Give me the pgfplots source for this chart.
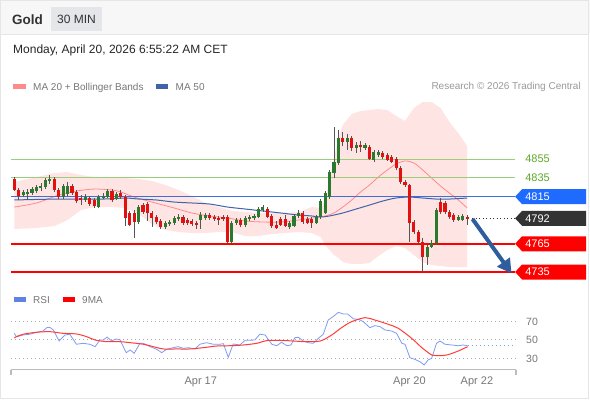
\documentclass[border=0pt]{standalone}
\usepackage{fontspec}
\setmainfont{Liberation Sans}
\usepackage{pgfplots}
\pgfplotsset{compat=1.18}
\usepackage{pgfplotstable}
\usetikzlibrary{arrows.meta}

\definecolor{cgreen}{HTML}{2A7A2E}
\definecolor{cred}{HTML}{E31010}
\definecolor{wick}{HTML}{555555}
\definecolor{band}{HTML}{FFE4E4}
\definecolor{ma20}{HTML}{FF8A8A}
\definecolor{ma50}{HTML}{3F64A8}
\definecolor{lvlgreen}{HTML}{9ACD7A}
\definecolor{txtgreen}{HTML}{5FA82A}
\definecolor{lvlblue}{HTML}{3C6FDC}
\definecolor{boxblue}{HTML}{1F6BFF}
\definecolor{lvlred}{HTML}{FF0000}
\definecolor{boxdark}{HTML}{333333}
\definecolor{arrowblue}{HTML}{2F5E9E}
\definecolor{rsiblue}{HTML}{7E9CF2}
\definecolor{rsileg}{HTML}{5F82E8}
\definecolor{rsired}{HTML}{FF3B3B}
\definecolor{gridgray}{HTML}{BBBBBB}
\definecolor{dotgray}{HTML}{AAAAAA}
\definecolor{txtgray}{HTML}{777777}
\definecolor{txtlight}{HTML}{999999}
\definecolor{txtdark}{HTML}{333333}
\definecolor{hdr}{HTML}{F7F7F7}
\definecolor{tagbg}{HTML}{E4E6E9}
\definecolor{frame}{HTML}{E6E6E6}

\pgfplotstableread{
i O H L C
2 4816.8 4822.1 4814.6 4820.0
3 4817.8 4823.1 4811.5 4820.0
4 4818.9 4825.3 4816.8 4823.1
5 4821.0 4827.4 4818.9 4825.3
6 4824.2 4829.5 4821.0 4826.3
7 4825.3 4834.8 4823.1 4832.7
8 4831.6 4838.0 4828.5 4833.8
11 4814.6 4828.5 4812.5 4826.3
12 4817.8 4830.6 4815.7 4826.3
16 4811.5 4817.8 4809.3 4814.6
19 4804.0 4816.8 4803.0 4814.6
20 4814.6 4818.9 4812.5 4815.7
21 4814.6 4823.1 4813.6 4821.0
23 4812.5 4820.0 4811.5 4817.8
28 4788.1 4806.1 4786.0 4804.0
34 4782.8 4789.2 4780.7 4787.0
35 4786.0 4790.2 4783.8 4788.1
36 4787.0 4794.5 4784.9 4792.3
37 4791.3 4796.6 4789.2 4793.4
42 4790.2 4798.7 4780.7 4795.5
43 4792.3 4797.7 4790.2 4795.5
49 4766.9 4789.2 4765.8 4787.0
50 4787.0 4792.3 4784.9 4790.2
52 4784.9 4794.5 4782.8 4792.3
53 4791.3 4795.5 4789.2 4793.4
54 4792.3 4796.6 4790.2 4794.5
55 4793.4 4804.0 4792.3 4801.9
56 4800.8 4806.1 4798.7 4804.0
62 4782.8 4789.2 4780.7 4787.0
63 4783.8 4796.6 4782.8 4794.5
64 4794.5 4800.8 4792.3 4797.7
68 4787.0 4795.5 4786.0 4793.4
69 4793.4 4812.5 4791.3 4810.4
70 4797.7 4821.0 4796.6 4818.9
71 4814.6 4843.3 4812.5 4841.2
72 4840.1 4889.0 4834.8 4851.8
73 4850.8 4885.8 4848.6 4877.3
75 4873.1 4881.6 4864.6 4877.3
77 4866.7 4873.1 4861.4 4869.9
79 4866.7 4872.0 4864.6 4869.9
81 4853.9 4864.6 4851.8 4862.4
82 4859.2 4864.6 4857.1 4862.4
93 4750.9 4763.7 4742.4 4761.5
94 4761.5 4769.0 4760.5 4765.8
95 4765.8 4803.0 4763.7 4800.8
100 4790.2 4795.5 4789.2 4793.4
101 4790.2 4796.6 4789.2 4794.5
}\greenc

\pgfplotstableread{
i O H L C
0 4833.8 4835.9 4821.0 4822.1
1 4822.1 4824.2 4811.5 4815.7
9 4833.8 4835.9 4820.0 4822.1
10 4822.1 4824.2 4812.5 4814.6
13 4826.3 4828.5 4816.8 4818.9
14 4820.0 4822.1 4808.3 4810.4
15 4813.6 4816.8 4806.1 4812.5
17 4813.6 4815.7 4805.1 4807.2
18 4811.5 4813.6 4803.0 4805.1
22 4821.0 4823.1 4809.3 4811.5
24 4818.9 4822.1 4812.5 4814.6
25 4814.6 4816.8 4783.8 4792.3
26 4797.7 4799.8 4783.8 4784.9
27 4797.7 4800.8 4771.1 4788.1
29 4806.1 4808.3 4796.6 4798.7
30 4807.2 4809.3 4789.2 4797.7
31 4797.7 4799.8 4782.8 4792.3
32 4793.4 4795.5 4786.0 4788.1
33 4789.2 4791.3 4780.7 4782.8
38 4793.4 4795.5 4784.9 4787.0
39 4790.2 4792.3 4784.9 4787.0
40 4789.2 4791.3 4783.8 4786.0
41 4787.0 4789.2 4780.7 4786.0
44 4795.5 4797.7 4790.2 4792.3
45 4793.4 4795.5 4789.2 4791.3
46 4792.3 4794.5 4784.9 4791.3
47 4793.4 4795.5 4789.2 4791.3
48 4793.4 4795.5 4765.8 4766.9
51 4790.2 4792.3 4782.8 4784.9
57 4801.9 4804.0 4792.3 4793.4
58 4794.5 4796.6 4781.7 4783.8
59 4784.9 4789.2 4780.7 4781.7
60 4791.3 4793.4 4783.8 4784.9
61 4791.3 4795.5 4782.8 4783.8
65 4797.7 4799.8 4786.0 4788.1
66 4791.3 4793.4 4786.0 4787.0
67 4791.3 4793.4 4781.7 4787.0
74 4877.3 4883.7 4868.8 4873.1
76 4877.3 4879.4 4863.5 4866.7
78 4869.9 4874.1 4862.4 4867.7
80 4867.7 4869.9 4853.9 4855.0
83 4861.4 4863.5 4855.0 4857.1
84 4859.2 4861.4 4852.9 4853.9
85 4857.1 4859.2 4850.8 4851.8
86 4855.0 4857.1 4843.3 4845.4
87 4845.4 4847.6 4828.5 4830.6
88 4830.6 4832.7 4825.3 4827.4
89 4827.4 4828.5 4766.9 4787.0
90 4788.1 4790.2 4775.4 4777.5
91 4777.5 4779.6 4764.7 4766.9
92 4766.9 4771.1 4735.0 4750.9
96 4809.3 4813.6 4796.6 4798.7
97 4808.3 4810.4 4796.6 4798.7
98 4798.7 4800.8 4791.3 4793.4
99 4795.5 4797.7 4788.1 4790.2
102 4793.4 4795.5 4784.9 4792.0
}\redc

\begin{document}
\begin{tikzpicture}
\useasboundingbox (0,0) rectangle (590pt,-400pt);
\fill[white] (0,0) rectangle (590pt,-400pt);
\fill[hdr] (0,0) rectangle (590pt,-34pt);
\draw[frame] (0.5pt,-0.5pt) rectangle (588.5pt,-398.5pt);
\draw[frame] (0.5pt,-34pt) -- (588.5pt,-34pt);

% header
\node[anchor=base west, inner sep=0pt, font=\fontsize{13.5}{16}\selectfont\bfseries, text=txtdark] at (12pt,-24pt) {Gold};
\fill[tagbg] (51pt,-7pt) rectangle (102pt,-31pt);
\node[anchor=base, inner sep=0pt, font=\fontsize{12}{14}\selectfont, text=txtdark] at (76.5pt,-23.5pt) {30 MIN};
\node[anchor=base west, inner sep=0pt, font=\fontsize{12}{14}\selectfont, text=black!85] at (13pt,-53pt) {Monday, April 20, 2026 6:55:22 AM CET};

% legends
\fill[ma20] (13pt,-84pt) rectangle (26pt,-89pt);
\node[anchor=base west, inner sep=0pt, font=\fontsize{10}{12}\selectfont, text=txtgray] at (33pt,-90pt) {MA 20 + Bollinger Bands};
\fill[ma50] (156pt,-84pt) rectangle (168pt,-89pt);
\node[anchor=base west, inner sep=0pt, font=\fontsize{10}{12}\selectfont, text=txtgray] at (175.5pt,-90pt) {MA 50};
\node[anchor=base east, inner sep=0pt, font=\fontsize{10}{12}\selectfont, text=txtlight] at (581pt,-89.5pt) {Research © 2026 Trading Central};

\fill[rsileg] (14pt,-297pt) rectangle (26pt,-302pt);
\node[anchor=base west, inner sep=0pt, font=\fontsize{10}{12}\selectfont, text=txtgray] at (33pt,-303pt) {RSI};
\fill[lvlred] (63pt,-297pt) rectangle (75pt,-302pt);
\node[anchor=base west, inner sep=0pt, font=\fontsize{10}{12}\selectfont, text=txtgray] at (82pt,-303pt) {9MA};

% ---------------- main price panel
\begin{axis}[at={(11pt,-95pt)}, anchor=north west, scale only axis,
  width=505pt, height=185pt, xmin=-0.74, xmax=113, ymin=4726.5, ymax=4923,
  hide axis, clip=false]
% Bollinger band
\addplot[fill=band, draw=none] coordinates {
(0,4830.6) (5,4835.9) (9,4840.1) (12,4841.2) (15,4838.0) (18,4835.9) (22,4834.8)
(25,4834.8) (28,4833.8) (31,4831.6) (34,4827.4) (37,4822.1) (40,4815.7) (43,4808.3)
(46,4804.0) (49,4799.8) (52,4798.7) (55,4797.7) (58,4797.7) (61,4797.7) (64,4798.7)
(67,4804.0) (69,4803.0) (70,4811.5) (71,4832.7) (72,4856.1) (73,4877.3) (74,4891.1)
(76,4902.8) (78,4906.0) (80,4907.0) (82,4908.1) (84,4907.0) (86,4900.7) (88,4895.4)
(90,4909.2) (92,4915.5) (94,4915.5) (96,4909.2) (98,4894.3) (100,4882.6) (102,4868.8)
(102,4740.3) (100,4740.3) (98,4740.3) (96,4741.4) (94,4742.4) (92,4745.6) (90,4753.0)
(88,4760.5) (86,4762.6) (84,4758.4) (82,4752.0) (80,4744.6) (78,4743.5) (76,4743.5)
(74,4745.6) (73,4749.9) (72,4753.0) (71,4758.4) (70,4763.7) (69,4772.2) (67,4776.4)
(64,4777.5) (61,4776.4) (58,4775.4) (55,4773.2) (52,4773.2) (49,4777.5) (46,4777.5)
(43,4776.4) (40,4776.4) (37,4777.5) (34,4779.6) (31,4786.0) (28,4796.6) (25,4803.0)
(22,4804.0) (18,4804.0) (15,4800.8) (12,4790.2) (9,4783.8) (5,4781.7) (0,4780.7)
};
% MA 20
\addplot[ma20, line width=0.8pt, smooth, tension=0.5] coordinates {
(0,4804.0) (5,4808.3) (10,4816.8) (14,4821.0) (18,4823.1) (22,4822.1) (24,4820.0)
(27,4814.6) (31,4809.3) (36,4803.0) (40,4797.7) (44,4794.5) (48,4792.3) (52,4789.2)
(56,4788.1) (60,4788.1) (64,4790.2) (67,4792.3) (70,4794.5) (72,4797.7) (74,4804.0)
(76,4811.5) (78,4820.0) (80,4827.4) (82,4835.9) (84,4843.3) (86,4849.7) (88,4852.9)
(90,4850.8) (92,4843.3) (94,4834.8) (96,4826.3) (98,4818.9) (100,4811.5) (102,4803.0)
};
% level lines
\addplot[lvlgreen, line width=0.9pt] coordinates {(-0.74,4855) (112.8,4855)};
\addplot[lvlgreen, line width=0.9pt] coordinates {(-0.74,4835) (112.8,4835)};
\addplot[lvlblue, line width=1.3pt] coordinates {(-0.74,4815) (112.8,4815)};
\addplot[lvlred, line width=2pt] coordinates {(-0.74,4765) (112.8,4765)};
\addplot[lvlred, line width=2pt] coordinates {(-0.74,4735) (112.8,4735)};
\addplot[boxdark, line width=0.9pt, dash pattern=on 1pt off 2.5pt] coordinates {(103.1,4792) (112.8,4792)};
% MA 50
\addplot[ma50, line width=1pt, smooth, tension=0.5] coordinates {
(0,4811.5) (10,4812.5) (20,4812.5) (25,4813.6) (28,4812.5) (32,4811.5) (36,4809.3)
(40,4808.3) (44,4807.2) (48,4804.0) (52,4801.9) (56,4799.8) (60,4797.7) (64,4795.5)
(67,4794.5) (69,4793.4) (71,4794.5) (74,4797.7) (77,4801.9) (80,4806.1) (83,4810.4)
(86,4813.6) (89,4814.6) (92,4813.6) (95,4812.5) (98,4812.5) (102,4813.6)
};
% candle wicks
\addplot[draw=none, mark=none, error bars/.cd, y dir=both, y explicit, error mark=none,
  error bar style={draw=wick, line width=0.7pt}]
  table[x=i, y expr={(\thisrow{H}+\thisrow{L})/2}, y error expr={(\thisrow{H}-\thisrow{L})/2}] {\greenc};
\addplot[draw=none, mark=none, error bars/.cd, y dir=both, y explicit, error mark=none,
  error bar style={draw=wick, line width=0.7pt}]
  table[x=i, y expr={(\thisrow{H}+\thisrow{L})/2}, y error expr={(\thisrow{H}-\thisrow{L})/2}] {\redc};
% candle bodies
\addplot[draw=none, mark=none, error bars/.cd, y dir=both, y explicit, error mark=none,
  error bar style={draw=cgreen, line width=3.1pt}]
  table[x=i, y expr={(\thisrow{O}+\thisrow{C})/2}, y error expr={abs(\thisrow{C}-\thisrow{O})/2}] {\greenc};
\addplot[draw=none, mark=none, error bars/.cd, y dir=both, y explicit, error mark=none,
  error bar style={draw=cred, line width=3.1pt}]
  table[x=i, y expr={(\thisrow{O}+\thisrow{C})/2}, y error expr={abs(\thisrow{C}-\thisrow{O})/2}] {\redc};

% arrow
\draw[arrowblue, line width=4pt, -{Triangle[length=14pt,width=15pt]}] (axis cs:103.2,4791.3) -- (axis cs:112.0,4733.5);

% labels
\node[anchor=west, inner sep=0pt, font=\fontsize{11}{13}\selectfont, text=txtgreen] at ([xshift=10pt]axis cs:112.8,4855) {4855};
\node[anchor=west, inner sep=0pt, font=\fontsize{11}{13}\selectfont, text=txtgreen] at ([xshift=10pt]axis cs:112.8,4835) {4835};
\fill[boxblue] (axis cs:112.8,4815) -- ++(7pt,7.5pt) -- ++(64pt,0pt) -- ++(0pt,-15pt) -- ++(-64pt,0pt) -- cycle;
\node[anchor=west, inner sep=0pt, font=\fontsize{11}{13}\selectfont, text=white] at ([xshift=10pt]axis cs:112.8,4815) {4815};
\fill[boxdark] (axis cs:112.8,4792) -- ++(7pt,7.5pt) -- ++(64pt,0pt) -- ++(0pt,-15pt) -- ++(-64pt,0pt) -- cycle;
\node[anchor=west, inner sep=0pt, font=\fontsize{11}{13}\selectfont, text=white] at ([xshift=10pt]axis cs:112.8,4792) {4792};
\fill[lvlred] (axis cs:112.8,4765) -- ++(7pt,7.5pt) -- ++(64pt,0pt) -- ++(0pt,-15pt) -- ++(-64pt,0pt) -- cycle;
\node[anchor=west, inner sep=0pt, font=\fontsize{11}{13}\selectfont, text=white] at ([xshift=10pt]axis cs:112.8,4765) {4765};
\fill[lvlred] (axis cs:112.8,4735) -- ++(7pt,7.5pt) -- ++(64pt,0pt) -- ++(0pt,-15pt) -- ++(-64pt,0pt) -- cycle;
\node[anchor=west, inner sep=0pt, font=\fontsize{11}{13}\selectfont, text=white] at ([xshift=10pt]axis cs:112.8,4735) {4735};
\end{axis}

% ---------------- RSI panel
\begin{axis}[at={(11pt,-305pt)}, anchor=north west, scale only axis,
  width=505pt, height=64.5pt, xmin=-0.74, xmax=113, ymin=18.1, ymax=87.8,
  axis x line=bottom, axis y line=none,
  axis line style={draw=gridgray, line width=1.5pt, -},
  xtick={42,89,104.2}, xticklabels={Apr 17, Apr 20, Apr 22},
  major tick length=0pt, xtick style={draw=none},
  xticklabel style={font=\fontsize{11}{13}\selectfont, text=txtgray, yshift=-4pt},
  clip=false]
\addplot[dotgray, line width=1pt, dash pattern=on 1pt off 3pt] coordinates {(-0.74,70) (112.8,70)};
\addplot[dotgray, line width=1pt, dash pattern=on 1pt off 3pt] coordinates {(-0.74,50) (112.8,50)};
\addplot[dotgray, line width=1pt, dash pattern=on 1pt off 3pt] coordinates {(-0.74,30) (112.8,30)};
\addplot[rsiblue, line width=0.8pt] coordinates {
(0,57.2) (0.5,53.6) (2.0,55.4) (3.5,56.2) (5.0,58.3) (6.5,59.7) (7.3,63.3) (8.0,63.7)
(8.8,60.8) (10.1,48.9) (11.4,55.4) (12.5,56.2) (14.0,45.4) (15.5,46.4) (17.0,45.4)
(18.2,42.8) (19.3,50.0) (20.1,50.0) (20.9,53.2) (21.9,48.9) (22.9,51.1) (23.8,50.3)
(25.2,36.3) (26.1,39.2) (27.0,35.6) (28.3,46.4) (29.1,46.4) (30.6,42.8) (32.1,39.9)
(33.2,36.3) (34.3,39.9) (35.8,41.7) (36.9,42.8) (38.1,41.0) (39.2,41.7) (40.7,40.3)
(41.8,45.4) (43.3,47.1) (44.8,45.4) (46.3,45.4) (47.1,46.0) (48.2,31.3) (49.3,45.7)
(50.8,44.6) (52.0,49.7) (53.1,49.7) (54.2,50.0) (55.3,56.2) (56.5,55.4) (58.0,45.4)
(59.1,43.8) (60.2,47.5) (61.4,43.8) (62.3,44.6) (63.2,52.5) (64.0,52.9) (65.1,48.9)
(66.2,47.1) (67.3,46.4) (68.5,51.8) (69.6,56.2) (70.7,71.6) (71.8,75.2) (73.0,79.9)
(74.1,78.1) (75.1,78.1) (76.4,72.7) (77.5,72.4) (78.6,69.8) (80.1,63.3) (81.2,65.5)
(82.4,64.4) (83.5,60.8) (85.0,59.7) (86.1,57.2) (87.3,46.4) (88.0,45.4) (89.1,30.9)
(90.2,29.1) (91.4,26.5) (92.3,23.0) (93.2,28.4) (94.0,30.2) (95.1,46.4) (95.9,48.9)
(97.0,45.4) (98.5,44.6) (100.0,43.8) (101.1,44.6) (102.1,43.8)
};
\addplot[rsiblue, line width=1pt, dash pattern=on 1pt off 3pt] coordinates {(102.1,43.8) (112.3,43.8)};
\addplot[rsired, line width=1pt, smooth, tension=0.5] coordinates {
(0,52.5) (2.0,56.2) (5.0,58.3) (8.0,59.0) (11.0,57.2) (14.0,56.5) (16.3,53.6) (18.2,50.0)
(20.8,48.2) (23.8,48.2) (26.1,47.1) (29.1,45.4) (31.3,42.8) (33.6,40.3) (36.6,40.3)
(39.6,40.3) (42.6,41.7) (45.6,43.5) (48.6,43.8) (51.6,44.6) (54.6,46.4) (57.2,49.5)
(61.7,49.2) (65.5,48.2) (68.9,48.9) (71.5,55.4) (73.7,63.3) (76.0,69.8) (79.0,74.1)
(81.2,71.6) (84.2,67.0) (86.5,62.6) (89.5,51.8) (91.8,41.7) (94.0,33.8) (95.1,33.0)
(97.4,33.8) (100.0,38.1) (102.1,42.8)
};
\draw[gridgray, line width=1.5pt] (axis cs:-0.74,18.1) -- ++(0pt,-5.5pt);
\draw[gridgray, line width=1.5pt] (axis cs:113,18.1) -- ++(0pt,-5.5pt);
\node[anchor=west, inner sep=0pt, font=\fontsize{10.5}{12}\selectfont, text=txtgray] at ([xshift=10pt]axis cs:113,70) {70};
\node[anchor=west, inner sep=0pt, font=\fontsize{10.5}{12}\selectfont, text=txtgray] at ([xshift=10pt]axis cs:113,50) {50};
\node[anchor=west, inner sep=0pt, font=\fontsize{10.5}{12}\selectfont, text=txtgray] at ([xshift=10pt]axis cs:113,30) {30};
\end{axis}
\end{tikzpicture}
\end{document}
